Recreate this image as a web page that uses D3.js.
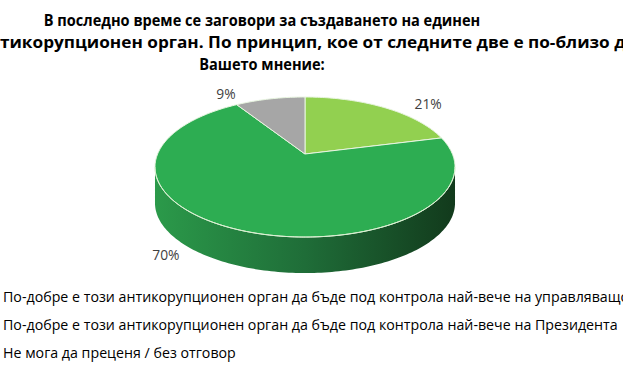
<!DOCTYPE html>
<html>
<head>
<meta charset="utf-8">
<script src="https://cdn.jsdelivr.net/npm/d3@7"></script>
<style>
  body { margin: 0; background: #fff; }
  svg { display: block; }
  text { font-family: "Open Sans", "Noto Sans", sans-serif; }
</style>
</head>
<body>
<div id="chart"></div>
<script>
// data
var titleLines = [
  "В последно време се заговори за създаването на единен",
  "антикорупционен орган. По принцип, кое от следните две е по-близо до",
  "Вашето мнение:"
];
var categories = [
  "По-добре е този антикорупционен орган да бъде под контрола най-вече на управляващото мнозинство",
  "По-добре е този антикорупционен орган да бъде под контрола най-вече на Президента",
  "Не мога да преценя  / без отговор"
];
var values = [21, 70, 9];
var colors = ["#92d050", "#2dad52", "#a6a6a6"];

var width = 623, height = 380;

var svg = d3.select("#chart").append("svg")
    .attr("width", width)
    .attr("height", height);

// measure a text at a given size
function measure(txt, weight, size) {
  var t = svg.append("text").attr("font-size", size).attr("font-weight", weight).text(txt);
  var w = t.node().getComputedTextLength();
  t.remove();
  return w;
}

///////// title (Calibri-like: narrow the font horizontally)

var tSize = 16.5;
var tScale = 437 / measure(titleLines[0], "bold", tSize);
// the middle line runs past both edges of the picture
var midLead = "ан", midShown = titleLines[1].slice(2, titleLines[1].length - 1);
var mScale = 626 / measure(midShown, "bold", tSize);

var title = svg.append("g");
titleLines.forEach(function(d, i) {
  var x = 262, anchor = "middle", s = tScale;
  if (i == 1) {
    s = mScale;
    x = -measure(midLead, "bold", tSize) * s;
    anchor = "start";
  }
  title.append("text")
      .attr("transform", "translate(" + x + "," + (26 + i * 22) + ") scale(" + s + ",1)")
      .attr("text-anchor", anchor)
      .attr("font-weight", "bold")
      .attr("font-size", tSize)
      .attr("fill", "#000")
      .text(d);
});

///////// 3d pie

var cx = 305, cy = 154;     // where the slices meet
var A = 147.4, B = 67.6;    // radii before perspective
var k = 0.186;              // perspective strength
var depth = 36;

function proj(a, r, dz) {
  var u = r * Math.sin(a), v = -r * Math.cos(a);
  var w = 1 - k * v;
  return [cx + A * u / w, cy + B * v / w + (dz || 0)];
}

function arcPts(a0, a1, r, dz) {
  var n = Math.max(2, Math.ceil(Math.abs(a1 - a0) / 0.02));
  return d3.range(n + 1).map(function(i) { return proj(a0 + (a1 - a0) * i / n, r, dz); });
}

var pie = d3.pie().sort(null).value(function(d) { return d; });
var arcs = pie(values);
var line = d3.line();

var defs = svg.append("defs");
var grad = defs.append("linearGradient")
    .attr("id", "side")
    .attr("gradientUnits", "userSpaceOnUse")
    .attr("x1", cx - A * 1.02).attr("x2", cx + A * 1.02)
    .attr("y1", 0).attr("y2", 0);
grad.append("stop").attr("offset", "0%").attr("stop-color", "#2b9a4a");
grad.append("stop").attr("offset", "50%").attr("stop-color", "#1f6d38");
grad.append("stop").attr("offset", "100%").attr("stop-color", "#123a1c");

// visible front of the side wall, between the silhouette points
var sideA0 = Math.acos(-k), sideA1 = 2 * Math.PI - Math.acos(-k);

var sides = svg.append("g");
arcs.forEach(function(d) {
  var a0 = Math.max(d.startAngle, sideA0), a1 = Math.min(d.endAngle, sideA1);
  if (a1 <= a0) return;
  var top = arcPts(a0, a1, 1, 0);
  var bot = arcPts(a1, a0, 1, depth);
  sides.append("path")
      .attr("d", line(top.concat(bot)) + "Z")
      .attr("fill", "url(#side)");
});

svg.append("g").selectAll("path")
    .data(arcs)
  .enter().append("path")
    .attr("d", function(d) {
      return line([[cx, cy]].concat(arcPts(d.startAngle, d.endAngle, 1, 0))) + "Z";
    })
    .attr("fill", function(d, i) { return colors[i]; })
    .attr("stroke", "#e8f5e0")
    .attr("stroke-width", 1)
    .attr("stroke-linejoin", "round");

// highlight on the top rim
svg.append("path")
    .attr("d", line(arcPts(sideA0, sideA1, 1, 0)))
    .attr("fill", "none")
    .attr("stroke", "#d8f0d0")
    .attr("stroke-width", 1);

///////// labels

var labelNudge = [[31, 4], [-57, 6], [-37, 6]];
svg.append("g").selectAll("text")
    .data(arcs)
  .enter().append("text")
    .attr("transform", function(d, i) {
      var mid = (d.startAngle + d.endAngle) / 2;
      var p = proj(mid, i == 2 ? 1.25 : 1.2, 0);
      return "translate(" + (p[0] + labelNudge[i][0]) + "," + (p[1] + labelNudge[i][1]) + ") scale(0.92,1)";
    })
    .attr("text-anchor", "middle")
    .attr("dy", ".35em")
    .attr("font-size", 15)
    .attr("fill", "#404040")
    .text(function(d) { return d.value + "%"; });

///////// legend

var lSize = 15;
var lScale = 615 / measure(categories[1], "normal", lSize);
var legend = svg.selectAll(".legend")
    .data(categories)
  .enter().append("g")
    .attr("class", "legend")
    .attr("transform", function(d, i) { return "translate(3," + (302 + i * 28) + ")"; });

legend.append("rect")
    .attr("x", -17)
    .attr("y", -9)
    .attr("width", 7)
    .attr("height", 7)
    .style("fill", function(d, i) { return colors[i]; });

legend.append("text")
    .attr("transform", "scale(" + lScale + ",1)")
    .attr("font-size", lSize)
    .attr("fill", "#000")
    .text(function(d) { return d; });
</script>
</body>
</html>
